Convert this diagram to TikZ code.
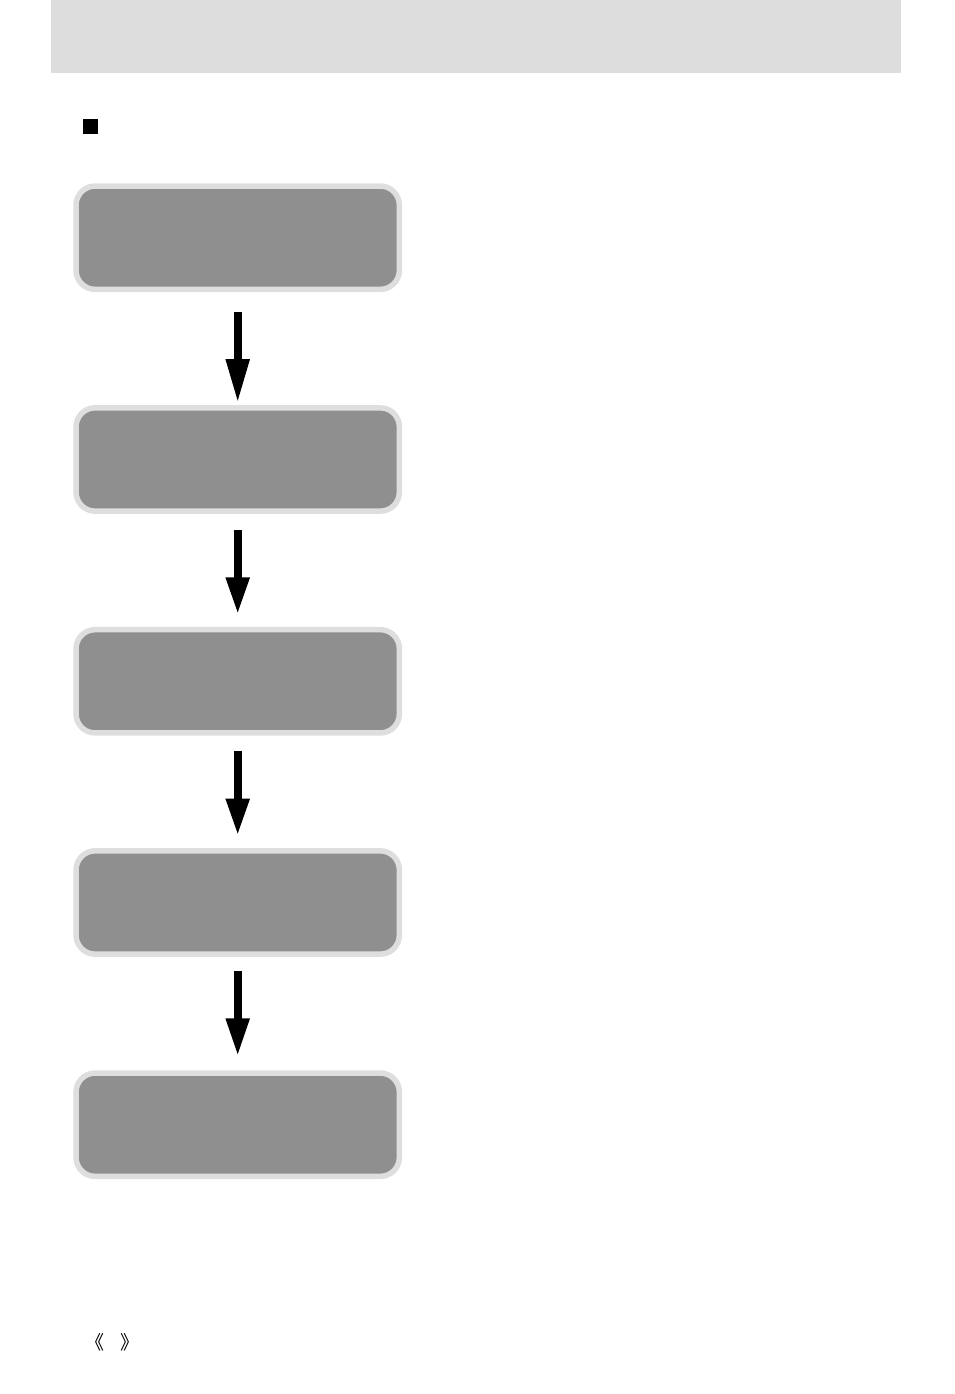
\documentclass[tikz,border=0pt]{standalone}
\usepackage{fontspec}
\newfontfamily\cjk{Noto Sans CJK SC}
\usetikzlibrary{arrows.meta}
\definecolor{bandgray}{RGB}{221,221,221}
\definecolor{boxfill}{RGB}{143,143,143}
\definecolor{boxedge}{RGB}{222,222,222}
\tikzset{
  stagebox/.style={draw=boxedge, fill=boxfill, line width=5.5pt, rounded corners=19pt,
    minimum width=323.3pt, minimum height=103.3pt, inner sep=0pt},
  flowarrow/.style={line width=8pt, -{Triangle[length=#1,width=22pt]}},
  flowarrow/.default=38pt,
  pagemark/.style={font=\cjk\fontsize{19}{19}\selectfont, inner sep=0pt}
}
\begin{document}
\begin{tikzpicture}[x=1pt,y=-1pt]
\useasboundingbox (0,0) rectangle (954,1394);
\fill[bandgray] (51,0) rectangle (901,73);
\node[fill=black, minimum size=15pt, inner sep=0pt] (bullet) at (90.5,126.5) {};
\node[stagebox] (b1) at (237.7,237.7) {};
\node[stagebox] (b2) at (237.7,459.5) {};
\node[stagebox] (b3) at (237.7,681.3) {};
\node[stagebox] (b4) at (237.7,902.5) {};
\node[stagebox] (b5) at (237.7,1124.7) {};
\draw[flowarrow=44pt, shorten <=20pt, shorten >=2pt] (b1.south) -- (b2.north);
\draw[flowarrow=37pt, shorten <=16.5pt, shorten >=12.5pt] (b2.south) -- (b3.north);
\draw[flowarrow=37pt, shorten <=15pt, shorten >=12.5pt] (b3.south) -- (b4.north);
\draw[flowarrow=38pt, shorten <=14.5pt, shorten >=14pt] (b4.south) -- (b5.north);
\node[pagemark] (pl) at (94.5,1342) {《};
\node[pagemark] (pr) at (129.5,1342) {》};
\end{tikzpicture}
\end{document}
